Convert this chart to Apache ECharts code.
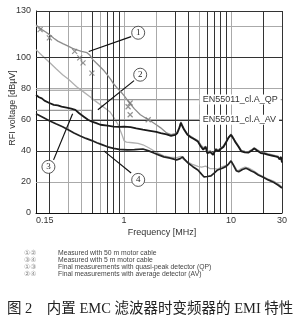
<!DOCTYPE html>
<html><head><meta charset="utf-8">
<script src="https://cdn.jsdelivr.net/npm/echarts@6/dist/echarts.min.js"></script>
<style>html,body{margin:0;padding:0;background:#fff}#c{width:297px;height:324px}</style>
</head><body><div id="c"></div>
<script>
// ---- data (frequency MHz, level dBµV) ----
const qp50 = [[0.15,121],[0.16,119.5],[0.17,118],[0.185,116.5],[0.2,114.8],[0.22,112.5],[0.24,110.6],[0.27,108.8],[0.3,107.4],[0.33,106],[0.36,105],[0.4,104],[0.45,103.2],[0.48,101.5],[0.51,98.7],[0.55,96.5],[0.6,94],[0.65,91.5],[0.7,88.8],[0.75,86],[0.8,83],[0.86,80.5],[0.92,78.5],[1.0,75.5],[1.07,72.8],[1.14,70.3],[1.25,67],[1.42,63.2],[1.6,61],[1.76,59.4],[2.0,56.8],[2.2,54.8],[2.5,51.5],[2.75,50.4],[3.0,51],[3.15,52.3],[3.3,55.8],[3.4,58.6],[3.5,56.6],[3.65,54],[3.9,51],[4.2,49.3],[4.5,48],[4.9,46.6],[5.2,44],[5.5,42],[5.8,43],[6.0,39.5],[6.4,40],[6.8,38.4],[7.2,41.5],[7.6,40.5],[8.0,41.8],[8.5,43.2],[9.0,46],[9.5,49],[10,50.8],[10.5,48.6],[11,46.2],[11.8,43],[12.5,40.3],[13.5,39.6],[14.5,39.4],[15.5,40.6],[16.5,42],[17.5,40.8],[19,39.2],[20.5,38.8],[22,38.2],[24,37.6],[26,37],[27.5,36.6],[28.5,35.2],[29.3,36.5],[30,33]];
const av50 = [[0.15,105],[0.17,101.5],[0.2,97],[0.23,93],[0.266,89],[0.3,86.2],[0.36,81.3],[0.42,77.8],[0.48,74.8],[0.54,72],[0.6,69.6],[0.67,67.2],[0.74,65],[0.8,61.5],[0.88,56.8],[0.93,52.5],[0.96,50],[1.0,46.5],[1.05,45.6],[1.2,45.2],[1.35,44.8],[1.5,43.9],[1.7,42],[1.9,40],[2.1,38.4],[2.35,36.8],[2.7,36],[3.1,35.6],[3.4,36.5],[3.6,34.5],[3.9,33],[4.3,31.5],[4.9,30],[5.3,29.5],[5.8,30.2],[6.4,28.5],[7,28.5],[7.5,28.2],[8.3,29.8],[9.3,31],[10,33.8],[10.6,31],[11.5,27],[12.5,28.6],[13.5,29.5],[14.5,29],[16,27.5],[18,25],[20,23.5],[22,22],[25,20.5],[28,18.5],[30,16.8]];
const qp5 = [[0.15,76],[0.16,74.5],[0.17,73.8],[0.18,72.3],[0.2,70.8],[0.22,69.6],[0.24,69.2],[0.26,68.4],[0.29,67.8],[0.32,67.2],[0.35,66.4],[0.38,64.2],[0.42,62],[0.46,60],[0.5,58.8],[0.55,57.8],[0.6,56.8],[0.7,56.2],[0.8,55.6],[0.9,55.4],[1.0,55.6],[1.15,55.2],[1.3,54.4],[1.5,53.6],[1.75,52.9],[2.0,52.2],[2.2,51.4],[2.5,50.6],[2.75,49.6],[3.0,50.2],[3.15,51.5],[3.3,55],[3.4,58],[3.5,56],[3.65,53.5],[3.9,50.5],[4.2,48.8],[4.5,47.6],[4.9,46],[5.2,43],[5.5,40.8],[5.8,42.5],[6.0,38.5],[6.4,39.2],[6.8,37.5],[7.2,40.8],[7.6,39.8],[8.0,41.2],[8.5,42.5],[9.0,45.5],[9.5,48.5],[10,50.3],[10.5,48],[11,45.5],[11.8,42.5],[12.5,39.6],[13.5,39],[14.5,38.8],[15.5,40],[16.5,41.5],[17.5,40.2],[19,38.6],[20.5,38.2],[22,37.6],[24,37],[26,36.4],[27.5,36],[28.5,34.5],[29.3,36],[30,32.5]];
const av5 = [[0.15,63.9],[0.17,62],[0.2,59.4],[0.23,57.4],[0.266,55.5],[0.3,53.6],[0.34,51.5],[0.385,49.7],[0.44,48],[0.5,46.6],[0.556,45.2],[0.62,44],[0.7,42.6],[0.8,41.6],[0.9,41],[1.07,40.6],[1.25,40.8],[1.5,41.2],[1.7,40],[1.9,38.6],[2.1,37.4],[2.35,36.1],[2.7,35.3],[3.1,34.2],[3.35,35],[3.52,36.1],[3.7,34.3],[3.95,32.3],[4.4,29.8],[4.9,27.7],[5.3,25],[5.6,23.2],[6.0,23.5],[6.5,23.9],[7.0,25.8],[7.5,27.7],[8.3,28.8],[9.0,30],[9.5,31.5],[10,33.5],[10.5,31],[11.2,27.2],[11.8,26.5],[12.8,28],[13.8,28.8],[14.5,28.2],[15.5,27],[16.5,26.2],[18,24.5],[20,23],[22.3,21.3],[25,19.8],[27.5,18],[30,16.1]];
const qpMarks = [[0.164,118],[0.2,112.7],[0.345,104],[0.385,99.8],[0.413,96.6],[0.5,90],[1.09,68.4],[1.14,70.8],[1.14,63.2],[1.68,60]];
const limitQP = [[0.15,79],[0.5,79],[0.5,73],[30,73]];
const limitAV = [[0.15,66],[0.5,66],[0.5,60],[30,60]];
const limitNames = ['EN55011_cl.A_QP','EN55011_cl.A_AV'];
const limitLabelAt = [[12.2,73],[12.0,60]];
const gridDarkX = [0.2,0.5,0.7,0.8,0.9,3,4,6,7,8,9,20,30];
const gridGrayX = [0.3,0.4,0.6,1,2,5,10];
const gridDarkY = [40,60,100,130];
const gridGrayY = [20,80,120];
const calloutLabels = ['1','2','3','4'];
const calloutAt = [[1.355,116],[1.415,89],[0.196,29.7],[1.355,21.3]];
const arrowFrom = [[1.164,113.5],[1.24,85.2],[0.219,34.2],[1.164,25.8]];
const arrowTo = [[0.467,103.9],[0.569,66.5],[0.33,63.9],[0.647,40]];
const legendKeys = ['①②','③④','①③','②④'];
const legendTexts = ['Measured with 50 m motor cable','Measured with 5 m motor cable','Final measurements with quasi-peak detector (QP)','Final measurements with average detector (AV)'];
const caption = '图 2    内置 EMC 滤波器时变频器的 EMI 特性';

const FONT = 'Liberation Sans, Arial, sans-serif';
const chart = echarts.init(document.getElementById('c'), null, {renderer:'canvas'});

const gridLines = []
  .concat(gridGrayX.map(v => ({xAxis:v, lineStyle:{color:'#aaa',width:1,type:'solid'}})))
  .concat(gridGrayY.map(v => ({yAxis:v, lineStyle:{color:'#aaa',width:1,type:'solid'}})))
  .concat(gridDarkX.map(v => ({xAxis:v, lineStyle:{color:'#333',width:1,type:'solid'}})))
  .concat(gridDarkY.map(v => ({yAxis:v, lineStyle:{color:'#333',width:1,type:'solid'}})));

const limitSeries = [limitQP, limitAV].map((d,i) => ({
  type:'line', data:d, symbol:'none', z:3, silent:true,
  lineStyle:{color:'#999', width:1.2},
  markPoint:{symbol:'rect', symbolSize:0, silent:true, z:20,
    data:[{coord:limitLabelAt[i], label:{show:true, position:'inside', formatter:limitNames[i], backgroundColor:'#fff', padding:[1,3,0,3], color:'#333', fontSize:9, fontFamily:FONT}}]}
}));

chart.setOption({
  animation:false,
  textStyle:{fontFamily:FONT},
  title: [
    {text: legendKeys.join('\n'), left:24, top:250, padding:0, textStyle:{fontSize:7, lineHeight:7, color:'#888', fontWeight:'normal', fontFamily:'DejaVu Sans'}},
    {text: legendTexts.join('\n'), left:58, top:250, padding:0, textStyle:{fontSize:6.8, lineHeight:7, color:'#444', fontWeight:'normal', fontFamily:FONT}},
    {text: caption, left:7, top:302, padding:0, textStyle:{fontSize:14.5, color:'#222', fontWeight:'normal', fontFamily:'Liberation Serif, Noto Sans CJK SC'}}
  ],
  grid:{left:36, right:15, top:11, bottom:111, outerBoundsMode:'none', containLabel:false},
  xAxis:{type:'log', logBase:10, min:0.15, max:30,
    name:'Frequency [MHz]', nameLocation:'middle', nameGap:15, nameMoveOverlap:false,
    nameTextStyle:{fontSize:9, color:'#333', padding:[0,0,0,6]},
    axisLine:{lineStyle:{color:'#111', width:1}}, axisTick:{show:false},
    axisLabel:{fontSize:9, color:'#333', margin:3, showMinLabel:true, showMaxLabel:true, alignMinLabel:'left'},
    splitLine:{show:false}, minorSplitLine:{show:false}},
  yAxis:{type:'value', min:0, max:130, interval:20,
    name:'RFI voltage [dBµV]', nameLocation:'middle', nameGap:19, nameRotate:90, nameMoveOverlap:false,
    nameTextStyle:{fontSize:9, color:'#333', padding:[0,0,0,8]},
    axisLine:{show:true, lineStyle:{color:'#111', width:1}}, axisTick:{show:false},
    axisLabel:{fontSize:9, color:'#333', margin:5, showMaxLabel:true, formatter: v => v === 120 ? '' : String(v)},
    splitLine:{show:false}},
  series:[
    {type:'line', data:[], z:1, silent:true, markLine:{silent:true, symbol:'none', label:{show:false}, data:gridLines}},
    ...limitSeries,
    {type:'line', name:'AV 50 m', data:av50, symbol:'none', z:4, lineStyle:{color:'#b0b0b0', width:1.3}},
    {type:'line', name:'QP 50 m', data:qp50, symbol:'none', z:5, lineStyle:{color:'#8c8c8c', width:1.3}},
    {type:'line', name:'AV 5 m', data:av5, symbol:'none', z:6, lineStyle:{color:'#222', width:1.7}},
    {type:'line', name:'QP 5 m', data:qp5, symbol:'none', z:7, lineStyle:{color:'#1a1a1a', width:1.8}},
    {type:'scatter', data:qpMarks, z:8, symbol:'path://M0,0L10,10M10,0L0,10', symbolSize:5,
      itemStyle:{color:'none', borderColor:'#777', borderWidth:1.2}},
    {type:'line', data:[], z:10, silent:true,
      markLine:{silent:true, symbol:['none','arrow'], symbolSize:[0,7], label:{show:false},
        lineStyle:{color:'#111', width:1.2, type:'solid'},
        data: arrowFrom.map((a,i) => [{coord:a},{coord:arrowTo[i]}])},
      markPoint:{silent:true, symbol:'circle', symbolSize:13,
        itemStyle:{color:'#fff', borderColor:'#444', borderWidth:0.9},
        label:{show:true, position:'inside', color:'#222', fontSize:9, fontFamily:'Liberation Serif'},
        data: calloutAt.map((c,i) => ({coord:c, label:{formatter:calloutLabels[i]}}))}}
  ]
});
</script></body></html>
